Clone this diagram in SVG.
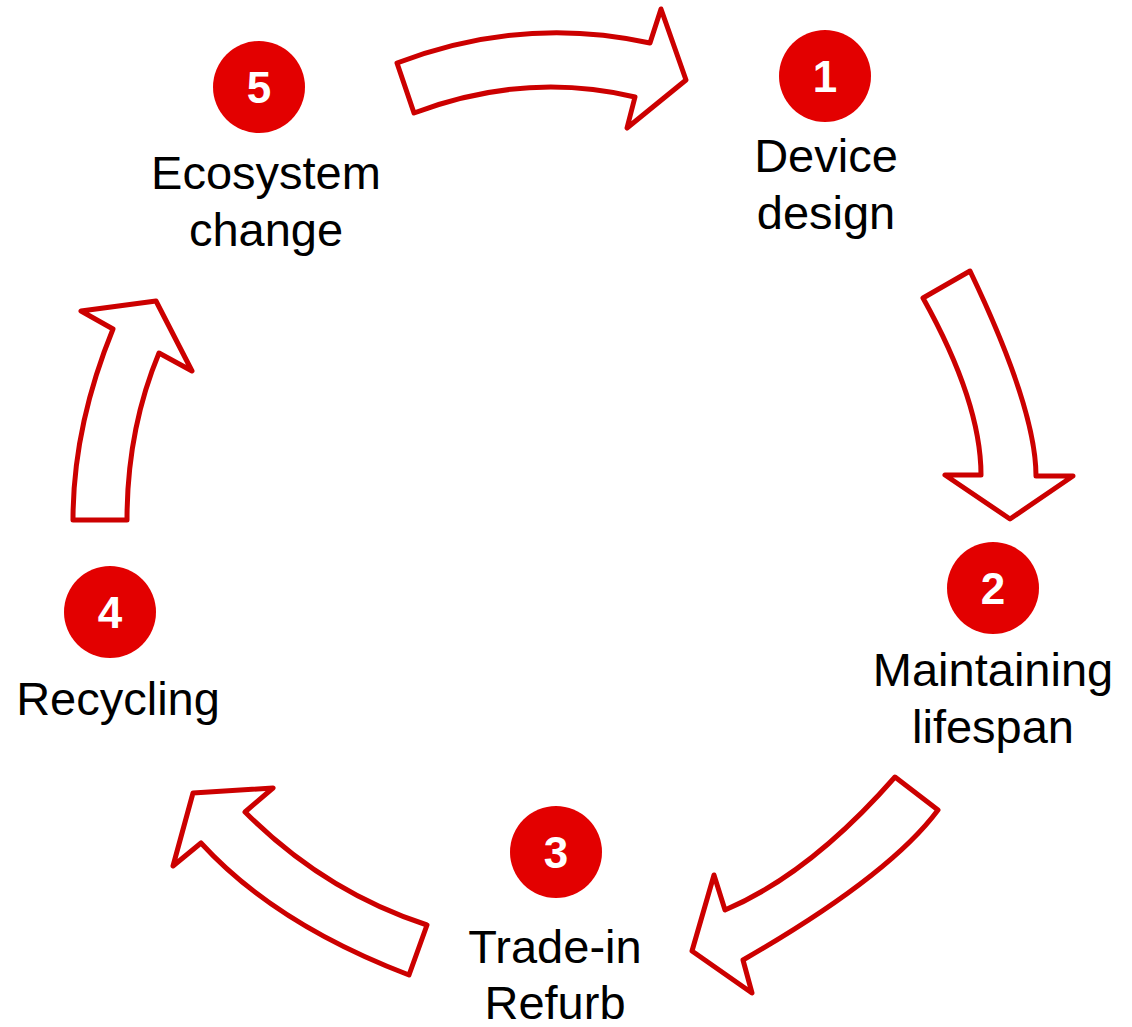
<svg xmlns="http://www.w3.org/2000/svg" width="1132" height="1027" viewBox="0 0 1132 1027">
<style>
.arrow{fill:#ffffff;stroke:#CC0000;stroke-width:5;stroke-linejoin:round}
.badge{fill:#E30000}
.num{font-family:"Liberation Sans",Arial,sans-serif;font-weight:bold;font-size:44px;fill:#ffffff;text-anchor:middle}
.lbl{font-family:"Liberation Sans",Arial,sans-serif;font-size:47px;fill:#000000;text-anchor:middle}
</style>
<rect width="1132" height="1027" fill="#ffffff"/>
<g id="connectors">
<path class="arrow" d="M397,63 Q523,15 650,43 L661,9 L686,80 L627,128 L635,97 Q525,71 414,113 Z"/>
<path class="arrow" d="M970,271 Q1036,409 1036,476 L1073,476 L1010,519 L945,475 L981,475 Q981,402 923,298 Z"/>
<path class="arrow" d="M938,810 Q889,876 743,960 L752,993 L692,951 L714,875 L725,910 Q810,874 895,777 Z"/>
<path class="arrow" d="M427,925 Q325,892 245,812 L273,788 L193,793 L173,866 L201,843 Q275,924 409,975 Z"/>
<path class="arrow" d="M73,520 Q73,427 113,329 L81,311 L156,301 L192,371 L159,353 Q127,430 127,520 Z"/>
</g>
<g id="node1">
<circle class="badge" cx="825" cy="76" r="46"/>
<text class="num" x="825" y="92">1</text>
<text class="lbl" x="826" y="172">Device</text>
<text class="lbl" x="826" y="229">design</text>
</g>
<g id="node2">
<circle class="badge" cx="993" cy="588" r="46"/>
<text class="num" x="993" y="604">2</text>
<text class="lbl" x="993" y="686">Maintaining</text>
<text class="lbl" x="993" y="743">lifespan</text>
</g>
<g id="node3">
<circle class="badge" cx="556" cy="852" r="46"/>
<text class="num" x="556" y="868">3</text>
<text class="lbl" x="555" y="963">Trade-in</text>
<text class="lbl" x="555" y="1019">Refurb</text>
</g>
<g id="node4">
<circle class="badge" cx="110" cy="612" r="46"/>
<text class="num" x="110" y="628">4</text>
<text class="lbl" x="118" y="715">Recycling</text>
</g>
<g id="node5">
<circle class="badge" cx="259" cy="87" r="46"/>
<text class="num" x="259" y="103">5</text>
<text class="lbl" x="266" y="189">Ecosystem</text>
<text class="lbl" x="266" y="246">change</text>
</g>
</svg>
